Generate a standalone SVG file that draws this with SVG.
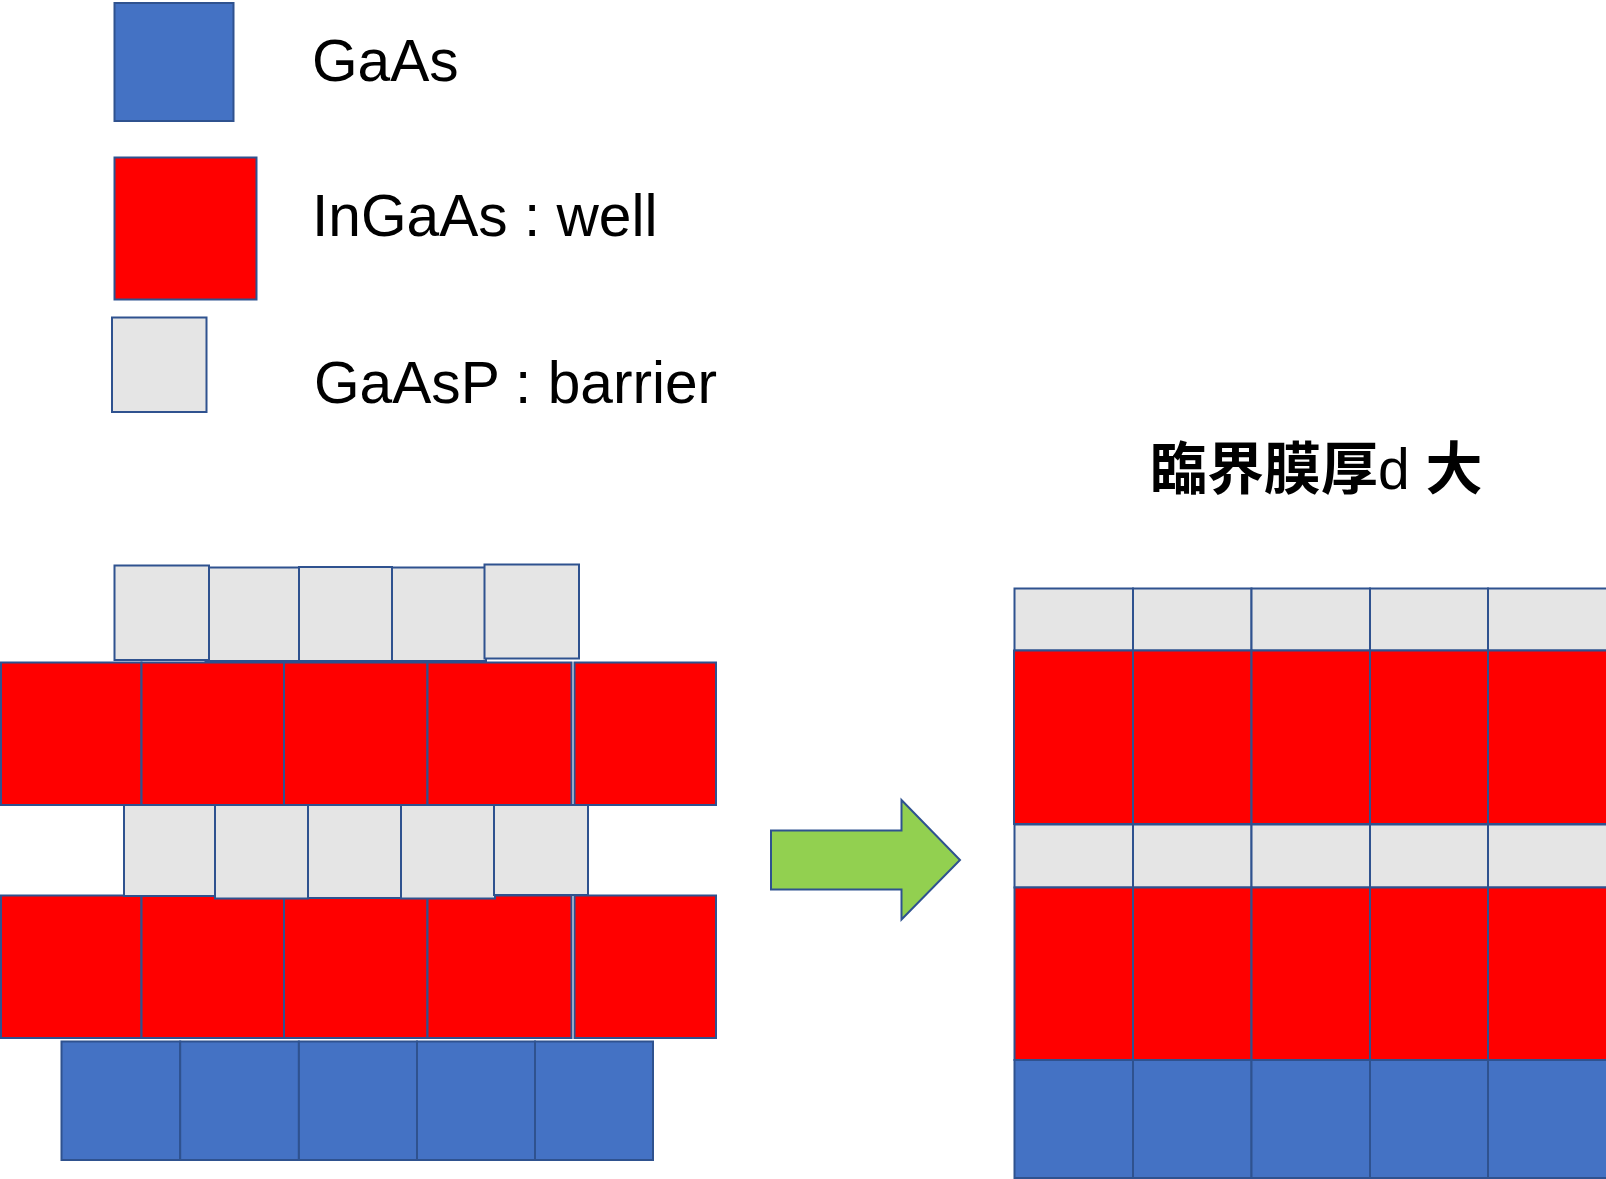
<svg xmlns="http://www.w3.org/2000/svg" width="1606" height="1179" viewBox="0 0 1606 1179">
<style>
.b, .r, .g { stroke: #2F528F; stroke-width: 2; }
.b { fill: #4472C4; }
.r { fill: #FF0000; }
.g { fill: #E5E5E5; }
.lbl { font-family: "Liberation Sans", Arial, sans-serif; font-size: 58.67px; fill: #000; }
.ttl { font-family: "Liberation Sans", "Noto Sans CJK JP", sans-serif; font-size: 57px; fill: #000; }
.cjk { font-weight: 700; }
</style>
<rect x="0" y="0" width="1606" height="1179" fill="#FFFFFF"/>

<g id="legend">
  <g id="legend-gaas"><rect class="b" x="114.5" y="3" width="119" height="118"/><text class="lbl" x="312" y="81">GaAs</text></g>
  <g id="legend-ingaas"><rect class="r" x="114.5" y="157.5" width="142" height="142"/><text class="lbl" x="312" y="236">InGaAs : well</text></g>
  <g id="legend-gaasp"><rect class="g" x="112" y="317.5" width="94.5" height="94.5"/><text class="lbl" x="314" y="402.5">GaAsP : barrier</text></g>
</g>

<g id="title"><text class="ttl" x="1150" y="489"><tspan class="cjk">臨界膜厚</tspan>d <tspan class="cjk">大</tspan></text></g>

<g id="left-stack">
  <g id="left-barrier-top">
    <rect class="g" x="205.5" y="567.5" width="93.5" height="93.5"/>
    <rect class="g" x="299" y="567" width="93" height="94"/>
    <rect class="g" x="392" y="567.5" width="94" height="93.5"/>
    <rect class="g" x="114.5" y="565.5" width="94.5" height="94.5"/>
    <rect class="g" x="484.5" y="564.5" width="94.5" height="94"/>
  </g>
  <g id="left-well-top">
    <rect class="r" x="1" y="662.5" width="140.5" height="142.5"/>
    <rect class="r" x="141.5" y="662.5" width="142.5" height="142.5"/>
    <rect class="r" x="284" y="662.5" width="143.5" height="142.5"/>
    <rect class="r" x="427.5" y="662.5" width="144" height="142.5"/>
    <rect class="r" x="574.5" y="662.5" width="141.5" height="142.5"/>
  </g>
  <g id="left-well-bottom">
    <rect class="r" x="1" y="895.5" width="140.5" height="142.5"/>
    <rect class="r" x="141.5" y="895.5" width="142.5" height="142.5"/>
    <rect class="r" x="284" y="895.5" width="143.5" height="142.5"/>
    <rect class="r" x="427.5" y="895.5" width="144" height="142.5"/>
    <rect class="r" x="574.5" y="895.5" width="141.5" height="142.5"/>
  </g>
  <g id="left-barrier-mid">
    <rect class="g" x="124" y="805" width="91" height="91"/>
    <rect class="g" x="215" y="805" width="93" height="93.5"/>
    <rect class="g" x="308" y="805" width="93" height="93"/>
    <rect class="g" x="401" y="805" width="94" height="93.5"/>
    <rect class="g" x="494" y="805" width="94" height="90"/>
  </g>
  <g id="left-substrate">
    <rect class="b" x="61.5" y="1041.5" width="118.7" height="118.5"/>
    <rect class="b" x="180.2" y="1041.5" width="118.7" height="118.5"/>
    <rect class="b" x="298.9" y="1041.5" width="118.1" height="118.5"/>
    <rect class="b" x="417" y="1041.5" width="118" height="118.5"/>
    <rect class="b" x="535" y="1041.5" width="118" height="118.5"/>
  </g>
</g>

<g id="right-stack">
  <g id="right-barrier-top">
    <rect class="g" x="1014.5" y="588.5" width="118.5" height="62"/>
    <rect class="g" x="1133" y="588.5" width="118.5" height="62"/>
    <rect class="g" x="1251.5" y="588.5" width="118.5" height="62"/>
    <rect class="g" x="1370" y="588.5" width="118" height="62"/>
    <rect class="g" x="1488" y="588.5" width="119" height="62"/>
  </g>
  <g id="right-well-top">
    <rect class="r" x="1014" y="650.5" width="119" height="173.5"/>
    <rect class="r" x="1133" y="650.5" width="118.5" height="173.5"/>
    <rect class="r" x="1251.5" y="650.5" width="118.5" height="173.5"/>
    <rect class="r" x="1370" y="650.5" width="118" height="173.5"/>
    <rect class="r" x="1488" y="650.5" width="119" height="173.5"/>
  </g>
  <g id="right-barrier-mid">
    <rect class="g" x="1014.5" y="824.5" width="118.5" height="63"/>
    <rect class="g" x="1133" y="824.5" width="118.5" height="63"/>
    <rect class="g" x="1251.5" y="824.5" width="118.5" height="63"/>
    <rect class="g" x="1370" y="824.5" width="118" height="63"/>
    <rect class="g" x="1488" y="824.5" width="119" height="63"/>
  </g>
  <g id="right-well-bottom">
    <rect class="r" x="1014.5" y="887.5" width="118.5" height="172.5"/>
    <rect class="r" x="1133" y="887.5" width="118.5" height="172.5"/>
    <rect class="r" x="1251.5" y="887.5" width="118.5" height="172.5"/>
    <rect class="r" x="1370" y="887.5" width="118" height="172.5"/>
    <rect class="r" x="1488" y="887.5" width="119" height="172.5"/>
  </g>
  <g id="right-substrate">
    <rect class="b" x="1014.5" y="1060" width="118.5" height="118"/>
    <rect class="b" x="1133" y="1060" width="118.5" height="118"/>
    <rect class="b" x="1251.5" y="1060" width="118.5" height="118"/>
    <rect class="b" x="1370" y="1060" width="118" height="118"/>
    <rect class="b" x="1488" y="1060" width="119" height="118"/>
  </g>
</g>

<g id="connectors">
  <polygon points="771,830.5 901.5,830.5 901.5,800 960,860 901.5,919.5 901.5,889.5 771,889.5" fill="#92D050" stroke="#2F528F" stroke-width="2" stroke-linejoin="miter"/>
</g>
</svg>
